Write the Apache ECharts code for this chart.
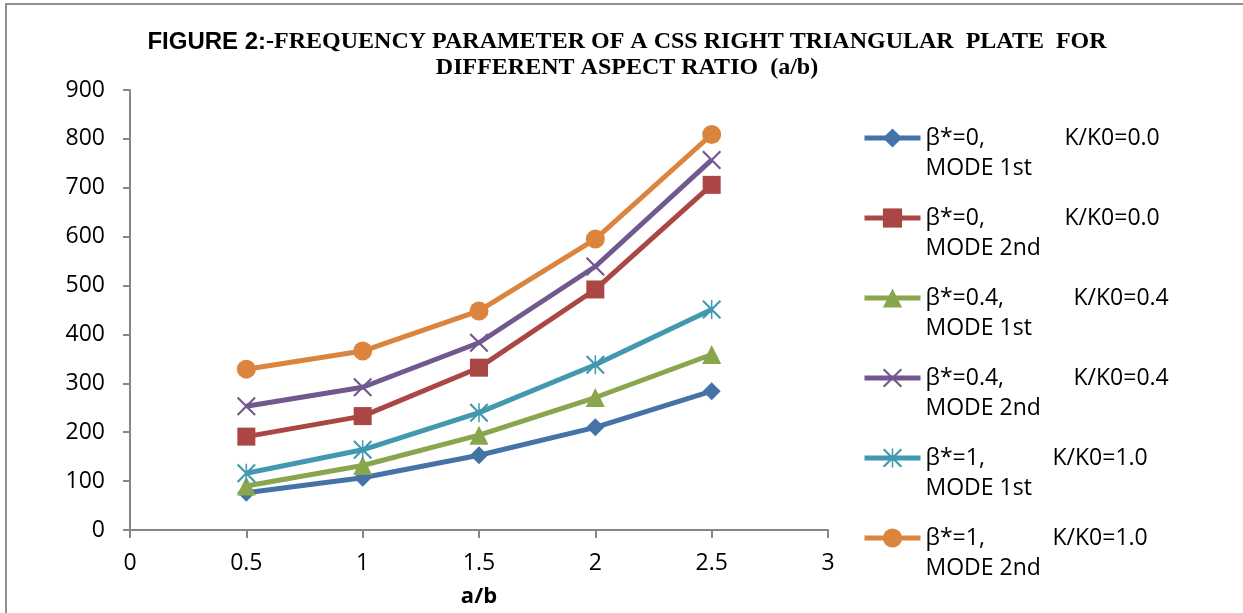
<!DOCTYPE html>
<html>
<head>
<meta charset="utf-8">
<script src="https://cdn.jsdelivr.net/npm/echarts@6/dist/echarts.min.js"></script>
<style>
  html, body { margin: 0; padding: 0; background: #fff; }
  #chart { width: 1243px; height: 613px; }
  #frame { position: absolute; left: 5px; top: 3px; width: 1300px; height: 700px;
           border-top: 2px solid #8f8f8f; border-left: 2px solid #8f8f8f; pointer-events: none; }
</style>
</head>
<body>
<div id="chart"></div>
<div id="frame"></div>
<script>
// ---- data ----
const xValues = [0.5, 1, 1.5, 2, 2.5];
const beta0Mode1 = [76, 107, 153, 210, 284];
const beta0Mode2 = [191, 233, 332, 492, 706];
const beta04Mode1 = [90, 132, 194, 271, 359];
const beta04Mode2 = [253, 292, 383, 539, 757];
const beta1Mode1 = [116, 164, 240, 338, 451];
const beta1Mode2 = [329, 366, 448, 595, 809];
const seriesNames = [
  'β*=0, K/K0=0.0 MODE 1st',
  'β*=0, K/K0=0.0 MODE 2nd',
  'β*=0.4, K/K0=0.4 MODE 1st',
  'β*=0.4, K/K0=0.4 MODE 2nd',
  'β*=1, K/K0=1.0 MODE 1st',
  'β*=1, K/K0=1.0 MODE 2nd'
];
const legendFirst = ['β*=0,', 'β*=0,', 'β*=0.4,', 'β*=0.4,', 'β*=1,', 'β*=1,'];
const legendSecond = ['K/K0=0.0', 'K/K0=0.0', 'K/K0=0.4', 'K/K0=0.4', 'K/K0=1.0', 'K/K0=1.0'];
const legendThird = ['MODE 1st', 'MODE 2nd', 'MODE 1st', 'MODE 2nd', 'MODE 1st', 'MODE 2nd'];
const xTicks = [0, 0.5, 1, 1.5, 2, 2.5, 3];
const yTicks = [0, 100, 200, 300, 400, 500, 600, 700, 800, 900];

const allValues = [beta0Mode1, beta0Mode2, beta04Mode1, beta04Mode2, beta1Mode1, beta1Mode2];
const colors = ['#4572A7', '#AA4643', '#89A54E', '#71588F', '#4198AF', '#DB843D'];
const xPath = 'path://M0,0.08 L0.08,0 L1,0.92 L0.92,1 Z M0.92,0 L1,0.08 L0.08,1 L0,0.92 Z';
const starPath = 'path://M0,0.08 L0.08,0 L1,0.92 L0.92,1 Z M0.92,0 L1,0.08 L0.08,1 L0,0.92 Z M0.46,0 L0.54,0 L0.54,1 L0.46,1 Z';
const symbols = ['diamond', 'rect', 'triangle', xPath, starPath, 'circle'];
const symbolSizes = [18, 18, 19, 19, 19, 19];
const legendWidthKey = ['w1', 'w1', 'w2', 'w2', 'w3', 'w3'];

const FONT = '"Open Sans", "Noto Sans", sans-serif';

const chart = echarts.init(document.getElementById('chart'), null, { renderer: 'canvas' });

const series = allValues.map((vals, i) => ({
  name: seriesNames[i],
  type: 'line',
  data: xValues.map((x, j) => [x, vals[j]]),
  symbol: symbols[i],
  symbolSize: symbolSizes[i],
  symbolKeepAspect: true,
  showAllSymbol: true,
  lineStyle: { color: colors[i], width: 5 },
  itemStyle: { color: colors[i] },
  emphasis: { disabled: true },
  animation: false,
  z: 2 + i
}));

const option = {
  animation: false,
  title: {
    text: '{s|FIGURE 2:}{t|-FREQUENCY PARAMETER OF A CSS RIGHT TRIANGULAR  PLATE  FOR}\n{t|DIFFERENT ASPECT RATIO  (a/b)}',
    left: 627,
    top: 29,
    textAlign: 'center',
    padding: 0,
    textStyle: {
      rich: {
        s: { fontFamily: '"Liberation Sans Narrow", "Liberation Sans", sans-serif', fontWeight: 'bold', fontSize: 24, lineHeight: 26, color: '#000' },
        t: { fontFamily: '"Liberation Serif", serif', fontWeight: 'bold', fontSize: 24, lineHeight: 26, color: '#000' }
      }
    }
  },
  grid: { left: 130, right: 415, top: 90, bottom: 83, containLabel: false },
  xAxis: {
    type: 'value',
    min: xTicks[0],
    max: xTicks[xTicks.length - 1],
    interval: 0.5,
    name: 'a/b',
    nameLocation: 'middle',
    nameGap: 56,
    nameTextStyle: { fontFamily: FONT, fontWeight: 'bold', fontSize: 22, color: '#000' },
    axisLine: { show: true, lineStyle: { color: '#868686', width: 2 } },
    axisTick: { show: true, length: 8, lineStyle: { color: '#868686', width: 2 } },
    axisLabel: { fontFamily: FONT, fontSize: 23, color: '#000', margin: 22 },
    splitLine: { show: false }
  },
  yAxis: {
    type: 'value',
    min: yTicks[0],
    max: yTicks[yTicks.length - 1],
    interval: 100,
    axisLine: { show: true, lineStyle: { color: '#868686', width: 2 } },
    axisTick: { show: true, length: 7, lineStyle: { color: '#868686', width: 2 } },
    axisLabel: { fontFamily: FONT, fontSize: 23, color: '#000', margin: 25 },
    splitLine: { show: false }
  },
  legend: {
    orient: 'vertical',
    left: 862,
    top: 93,
    padding: 0,
    itemWidth: 56,
    itemHeight: 24,
    itemGap: -10,
    selectedMode: false,
    data: seriesNames,
    lineStyle: { width: 5 },
    formatter: function (name) {
      const i = seriesNames.indexOf(name);
      return '{' + legendWidthKey[i] + '|' + legendFirst[i] + '}{k|' + legendSecond[i] + '}\n{k|' + legendThird[i] + '}';
    },
    textStyle: {
      fontFamily: FONT, fontSize: 23, color: '#000', lineHeight: 30,
      padding: [30, 0, 0, 0],
      rich: {
        w1: { width: 139, fontFamily: FONT, fontSize: 23, color: '#000', lineHeight: 30 },
        w2: { width: 148, fontFamily: FONT, fontSize: 23, color: '#000', lineHeight: 30 },
        w3: { width: 127, fontFamily: FONT, fontSize: 23, color: '#000', lineHeight: 30 },
        k: { fontFamily: FONT, fontSize: 23, color: '#000', lineHeight: 30 }
      }
    }
  },
  series: series
};

chart.setOption(option);
</script>
</body>
</html>
